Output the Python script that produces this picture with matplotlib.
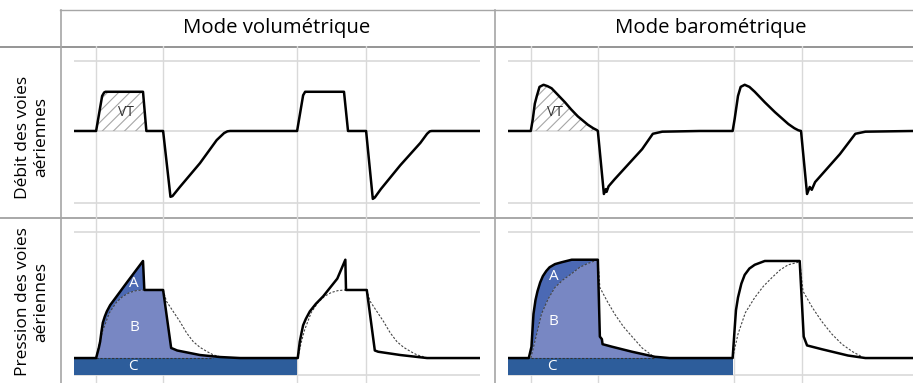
import numpy as np
import matplotlib
matplotlib.use("Agg")
import matplotlib.pyplot as plt
from matplotlib.lines import Line2D

plt.rcParams['font.family'] = ['Open Sans', 'DejaVu Sans']
plt.rcParams['hatch.linewidth'] = 0.8

W, H = 913, 383

# --- data (time in s, flow / pressure in relative units) ---
headers = ["Mode volumétrique", "Mode barométrique"]
row_labels = ["Débit des voies\naériennes", "Pression des voies\naériennes"]

# volumetric mode
vol_flow_t = [-0.33, 0.0, 0.09, 0.12, 0.14, 0.70, 0.75, 1.0, 1.11, 1.14, 1.25, 1.55, 1.80, 1.91, 1.96, 2.0,
              3.0, 3.09, 3.12, 3.70, 3.76, 4.03, 4.13, 4.16, 4.25, 4.54, 4.84, 4.94, 4.98, 5.01, 5.73]
vol_flow = [0, 0, 0.50, 0.55, 0.56, 0.56, 0, 0, -0.94, -0.93, -0.80, -0.46, -0.13, -0.03, -0.005, 0,
            0, 0.51, 0.56, 0.56, 0, 0, -0.97, -0.95, -0.83, -0.49, -0.17, -0.04, -0.005, 0, 0]

vol_pres_t = [-0.33, 0.0, 0.01, 0.04, 0.06, 0.08, 0.10, 0.13, 0.16, 0.21, 0.28, 0.46, 0.70, 0.72, 1.0, 1.12,
              1.21, 1.55, 1.85, 2.15,
              3.01, 3.04, 3.07, 3.09, 3.13, 3.19, 3.28, 3.39, 3.60, 3.72, 3.73, 4.04, 4.16, 4.21, 4.54, 4.94, 5.73]
vol_pres = [0, 0, 0.02, 0.08, 0.13, 0.21, 0.28, 0.33, 0.37, 0.42, 0.47, 0.60, 0.77, 0.54, 0.54, 0.08,
            0.06, 0.024, 0.008, 0,
            0, 0.13, 0.21, 0.26, 0.31, 0.37, 0.43, 0.49, 0.63, 0.78, 0.54, 0.54, 0.06, 0.05, 0.024, 0, 0]

vol_insp_t = [0.0, 0.05, 0.10, 0.20, 0.30, 0.40, 0.50, 0.60, 0.70]
vol_insp = [0.0, 0.12, 0.22, 0.36, 0.44, 0.49, 0.52, 0.535, 0.54]
vol_insp2_t = [3.01, 3.06, 3.11, 3.21, 3.31, 3.41, 3.51, 3.61, 3.72]
vol_insp2 = [0.0, 0.12, 0.22, 0.36, 0.44, 0.49, 0.52, 0.535, 0.54]
vol_exp_t = [1.0, 1.05, 1.15, 1.25, 1.35, 1.45, 1.55, 1.66, 1.75, 1.85]
vol_exp = [0.54, 0.45, 0.37, 0.29, 0.20, 0.13, 0.085, 0.05, 0.025, 0.01]
vol_exp2_t = [4.04, 4.09, 4.19, 4.29, 4.39, 4.49, 4.59, 4.70, 4.79, 4.89]
vol_exp2 = [0.54, 0.45, 0.37, 0.29, 0.20, 0.13, 0.085, 0.05, 0.025, 0.01]

# barometric mode
bar_flow_t = [-0.34, 0.0, 0.03, 0.06, 0.09, 0.13, 0.19, 0.25, 0.31, 0.41, 0.51, 0.60, 0.70, 0.85, 0.93, 0.99, 1.0,
              1.09, 1.12, 1.13, 1.16, 1.25, 1.66, 1.82, 1.96, 2.52,
              3.01, 3.04, 3.09, 3.13, 3.19, 3.26, 3.34, 3.49, 3.64, 3.84, 3.93, 3.99, 4.03,
              4.12, 4.16, 4.19, 4.24, 4.61, 4.84, 4.99, 5.70]
bar_flow = [0, 0, 0.17, 0.39, 0.50, 0.63, 0.66, 0.64, 0.61, 0.51, 0.41, 0.31, 0.21, 0.09, 0.04, 0.01, 0,
            -0.90, -0.83, -0.87, -0.79, -0.69, -0.26, -0.04, -0.01, 0,
            0, 0.17, 0.50, 0.63, 0.66, 0.63, 0.56, 0.41, 0.27, 0.10, 0.04, 0.01, 0,
            -0.90, -0.80, -0.84, -0.73, -0.33, -0.04, -0.01, 0]

bar_pres_t = [-0.34, -0.03, 0.01, 0.04, 0.07, 0.10, 0.14, 0.18, 0.23, 0.28, 0.36, 0.46, 0.61, 1.0, 1.03, 1.06,
              1.07, 1.21, 1.51, 1.85, 2.07,
              3.01, 3.04, 3.06, 3.09, 3.14, 3.19, 3.26, 3.34, 3.49, 4.01, 4.07, 4.12, 4.34, 4.73, 4.99, 5.70]
bar_pres = [0, 0, 0.09, 0.35, 0.46, 0.53, 0.60, 0.65, 0.69, 0.72, 0.745, 0.76, 0.78, 0.78, 0.17, 0.15,
            0.11, 0.09, 0.05, 0.01, 0,
            0, 0.23, 0.38, 0.48, 0.59, 0.66, 0.71, 0.74, 0.77, 0.77, 0.17, 0.10, 0.07, 0.02, 0, 0]

bar_insp_t = [0.0, 0.06, 0.16, 0.26, 0.36, 0.48, 0.61, 0.73, 0.85, 1.0]
bar_insp = [0.0, 0.13, 0.35, 0.47, 0.56, 0.62, 0.67, 0.72, 0.75, 0.78]
bar_insp2_t = [3.01, 3.09, 3.20, 3.34, 3.47, 3.60, 3.72, 3.84, 3.99]
bar_insp2 = [0.0, 0.19, 0.36, 0.48, 0.57, 0.64, 0.70, 0.74, 0.76]
bar_exp_t = [1.0, 1.03, 1.14, 1.25, 1.38, 1.51, 1.66, 1.81, 1.85]
bar_exp = [0.78, 0.56, 0.45, 0.35, 0.25, 0.17, 0.08, 0.02, 0.0]
bar_exp2_t = [4.01, 4.06, 4.20, 4.34, 4.49, 4.64, 4.80, 4.94]
bar_exp2 = [0.77, 0.53, 0.40, 0.29, 0.19, 0.11, 0.05, 0.01]

vgrid_vol = [0, 1, 3, 4.03]
vgrid_bar = [0, 1, 3.03, 4.04]

# colors
grid_c = '#D9D9D9'
border_c = '#A6A6A6'
col_A = '#4B69B4'
col_B = '#7887C3'
col_C = '#2D5D9B'

fig = plt.figure(figsize=(W / 100, H / 100), dpi=100)


def px_axes(x0, y0, x1, y1):
    ax = fig.add_axes([x0 / W, 1 - y1 / H, (x1 - x0) / W, (y1 - y0) / H])
    ax.set_facecolor('none')
    ax.axis('off')
    return ax


def fig_line(x0, y0, x1, y1, color=border_c, lw=1.0):
    fig.add_artist(Line2D([x0 / W, x1 / W], [1 - y0 / H, 1 - y1 / H],
                          transform=fig.transFigure, color=color, lw=lw, zorder=0))


# table borders
fig_line(60, 9.5, W, 9.5)
fig_line(0, 46.5, W, 46.5, color='#8C8C8C', lw=1.3)
fig_line(0, 218, W, 218, color='#9A9A9A', lw=1.2)
fig_line(60.5, 9.5, 60.5, H, lw=1.2)
fig_line(494.5, 9.5, 494.5, H, lw=1.2)

fig.text(277 / W, 1 - 28 / H, headers[0], ha='center', va='center', fontsize=14.7)
fig.text(711 / W, 1 - 28 / H, headers[1], ha='center', va='center', fontsize=14.7)
fig.text(32 / W, 1 - 137 / H, row_labels[0], ha='center', va='center', rotation=90,
         fontsize=12.5, linespacing=1.15)
fig.text(32 / W, 1 - 302 / H, row_labels[1], ha='center', va='center', rotation=90,
         fontsize=12.5, linespacing=1.15)

FLOW_LIM = (-1.243, 1.214)
PRES_LIM = (-0.198, 1.111)

panels = [
    dict(x0=74, x1=480, xlim=(-0.33, 5.73), vgrid=vgrid_vol,
         ft=vol_flow_t, f=vol_flow, hatch_end=0.75, vt=(0.45, 0.27),
         pt=vol_pres_t, p=vol_pres, insp=(vol_insp_t, vol_insp), insp2=(vol_insp2_t, vol_insp2),
         exp=(vol_exp_t, vol_exp), exp2=(vol_exp2_t, vol_exp2), peak_i=12, b_from=13, b_end=19,
         c_end=3.0, dash_end=1.75, lab=(0.57, 0.595, 0.24)),
    dict(x0=508, x1=913, xlim=(-0.34, 5.70), vgrid=vgrid_bar,
         ft=bar_flow_t, f=bar_flow, hatch_end=1.0, vt=(0.36, 0.27),
         pt=bar_pres_t, p=bar_pres, insp=(bar_insp_t, bar_insp), insp2=(bar_insp2_t, bar_insp2),
         exp=(bar_exp_t, bar_exp), exp2=(bar_exp2_t, bar_exp2), peak_i=13, b_from=13, b_end=20,
         c_end=3.01, dash_end=1.85, lab=(0.34, 0.65, 0.29)),
]

for pn in panels:
    # ---- flow row ----
    ax = px_axes(pn['x0'], 46, pn['x1'], 218)
    ax.set_xlim(*pn['xlim'])
    ax.set_ylim(*FLOW_LIM)
    for g in pn['vgrid']:
        ax.axvline(g, color=grid_c, lw=1.0, zorder=0)
    for g in [1.0, 0.0, -1.03]:
        ax.axhline(g, color=grid_c, lw=1.2, zorder=0)
    ft = np.array(pn['ft'])
    f = np.array(pn['f'])
    m = (ft >= 0) & (ft <= pn['hatch_end'])
    ax.fill_between(ft[m], 0, f[m], facecolor='none', hatch='///', edgecolor='#A6A6A6',
                    linewidth=0, zorder=1)
    ax.plot(ft, f, color='black', lw=1.8, solid_joinstyle='round', zorder=3)
    ax.text(pn['vt'][0], pn['vt'][1], 'VT', ha='center', va='center', fontsize=10,
            color='#333333', zorder=4)

    # ---- pressure row ----
    ax = px_axes(pn['x0'], 218, pn['x1'], H)
    ax.set_xlim(*pn['xlim'])
    ax.set_ylim(*PRES_LIM)
    for g in pn['vgrid']:
        ax.axvline(g, color=grid_c, lw=1.0, zorder=0)
    for g in [1.0, -0.135]:
        ax.axhline(g, color=grid_c, lw=1.2, zorder=0)

    pt = np.array(pn['pt'])
    p = np.array(pn['p'])
    it, ip = pn['insp']
    k = pn['peak_i']
    # B: under dashed inspiration curve, plateau, then solid expiration
    bx = list(it) + list(pt[pn['b_from']:pn['b_end'] + 1])
    by = list(ip) + list(p[pn['b_from']:pn['b_end'] + 1])
    ax.fill(bx + [bx[-1], 0], by + [0, 0], color=col_B, lw=0, zorder=1)
    # A: between solid and dashed on inspiration
    s0 = int(np.argmax(pt >= 0))
    a_x = list(pt[s0:k + 1]) + list(it[::-1])
    a_y = list(p[s0:k + 1]) + list(ip[::-1])
    ax.fill(a_x, a_y, color=col_A, lw=0, zorder=1)
    # C bar
    ax.barh(-0.0675, pn['c_end'] - pn['xlim'][0], height=0.135, left=pn['xlim'][0],
            color=col_C, zorder=1)

    ax.plot([0, pn['dash_end']], [0, 0], color='#333333', lw=0.8, ls=(0, (2, 1.5)), zorder=2)
    for dt, dp in [pn['insp'], pn['insp2'], pn['exp'], pn['exp2']]:
        ax.plot(dt, dp, color='#444444', lw=0.8, ls=(0, (2, 1.5)), zorder=2)
    ax.plot(pt, p, color='black', lw=1.8, solid_joinstyle='round', zorder=3)

    lx, la, lb = pn['lab']
    ax.text(lx, la, 'A', color='white', ha='center', va='center', fontsize=11, zorder=4)
    ax.text(lx, lb, 'B', color='white', ha='center', va='center', fontsize=11, zorder=4)
    ax.text(lx - 0.02, -0.07, 'C', color='white', ha='center', va='center', fontsize=11, zorder=4)

fig.savefig('out.png', dpi=100)
